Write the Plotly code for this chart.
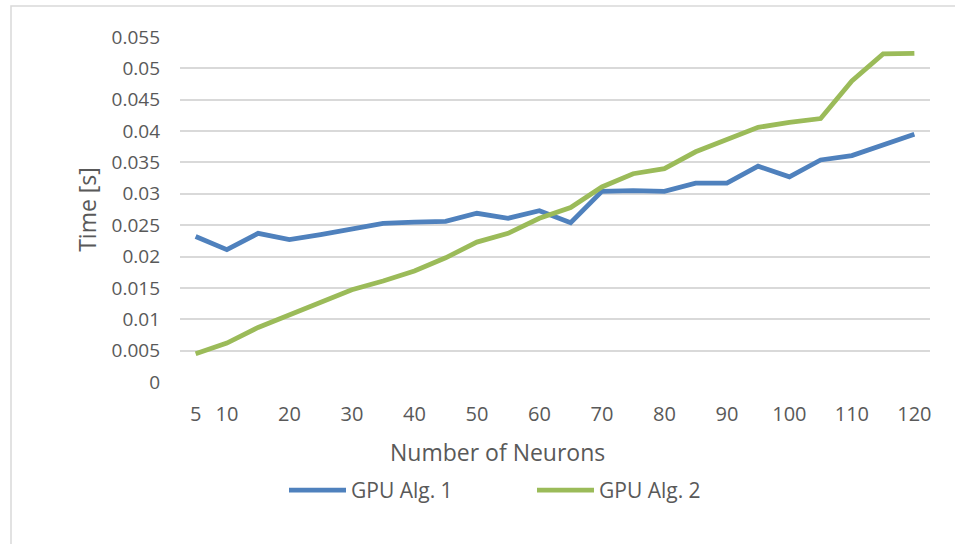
import plotly.graph_objects as go

# Number of neurons per run and measured run times (seconds)
neurons = [5, 10, 15, 20, 25, 30, 35, 40, 45, 50, 55, 60,
           65, 70, 75, 80, 85, 90, 95, 100, 105, 110, 115, 120]
gpu_alg1 = [0.0232, 0.0211, 0.0237, 0.0227, 0.0235, 0.0244, 0.0253, 0.0255, 0.0256, 0.0269, 0.0261, 0.0273,
            0.0254, 0.0304, 0.0305, 0.0304, 0.0317, 0.0317, 0.0344, 0.0327, 0.0354, 0.0361, 0.0379, 0.0395]
gpu_alg2 = [0.0045, 0.0062, 0.0087, 0.0107, 0.0129, 0.0147, 0.0161, 0.0177, 0.0198, 0.0223, 0.0237, 0.0261,
            0.0278, 0.0311, 0.0332, 0.0340, 0.0367, 0.0387, 0.0406, 0.0414, 0.0420, 0.0480, 0.0523, 0.0524]

x_ticks = [5, 10, 20, 30, 40, 50, 60, 70, 80, 90, 100, 110, 120]
y_ticks = [0, 0.005, 0.01, 0.015, 0.02, 0.025, 0.03, 0.035, 0.04, 0.045, 0.05, 0.055]
y_tick_text = ["0", "0.005", "0.01", "0.015", "0.02", "0.025", "0.03", "0.035",
               "0.04", "0.045", "0.05", "0.055"]

TEXT = "#595959"
GRID = "#d9d9d9"
FONT = "Open Sans"

fig = go.Figure()
fig.add_trace(go.Scatter(x=neurons, y=gpu_alg1, mode="lines", name="GPU Alg. 1",
                         line=dict(color="#4f81bd", width=4.8)))
fig.add_trace(go.Scatter(x=neurons, y=gpu_alg2, mode="lines", name="GPU Alg. 2",
                         line=dict(color="#9bbb59", width=4.8)))

W, H = 955, 544
ml, mr, mt, mb = 180, 25, 37, 162
pw, ph = W - ml - mr, H - mt - mb

# chart-area border (light grey frame)
fig.add_shape(type="rect", xref="paper", yref="paper",
              x0=(11 - ml) / pw, x1=(W + 20 - ml) / pw,
              y0=-(H + 20 - mt - ph) / ph, y1=(H - 6 - mb) / ph,
              line=dict(color=GRID, width=1.5), fillcolor="rgba(0,0,0,0)", layer="below")

# x-axis title, centred on the whole chart area rather than the plot area
fig.add_annotation(text="Number of Neurons", xref="paper", yref="paper",
                   x=(497 - ml) / pw, y=-(452 - (H - mb)) / ph,
                   xanchor="center", yanchor="middle", showarrow=False,
                   font=dict(family=FONT, size=23, color=TEXT))

fig.update_layout(
    width=W, height=H,
    margin=dict(l=ml, r=mr, t=mt, b=mb),
    paper_bgcolor="white", plot_bgcolor="white",
    font=dict(family=FONT, color=TEXT, size=19),
    showlegend=True,
    legend=dict(orientation="h", x=(284 - ml) / pw, xanchor="left", y=-0.255, yanchor="top",
                font=dict(size=21, color=TEXT), entrywidth=176, itemwidth=57),
    xaxis=dict(range=[2.5, 122.5], tickmode="array", tickvals=x_ticks,
               showgrid=False, zeroline=False, showline=False, ticks="",
               ticklabelstandoff=18,
               tickfont=dict(size=20, color=TEXT)),
    yaxis=dict(range=[0, 0.055], tickmode="array", tickvals=y_ticks, ticktext=y_tick_text,
               showgrid=True, gridcolor=GRID, gridwidth=1.5, zeroline=False, showline=False,
               ticks="", ticklabelstandoff=19, tickfont=dict(size=19, color=TEXT),
               title=dict(text="Time [s]", font=dict(size=23, color=TEXT), standoff=8)),
)

fig.write_html("out.html")
